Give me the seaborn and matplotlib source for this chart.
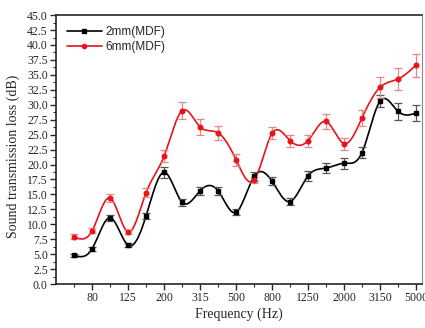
import numpy as np
import pandas as pd
import matplotlib
matplotlib.use("Agg")
import matplotlib.pyplot as plt
import seaborn as sns
from matplotlib.lines import Line2D
from matplotlib.ticker import MultipleLocator, FixedLocator, FormatStrFormatter

# data (1/3 octave bands)
freqs = ["63", "80", "100", "125", "160", "200", "250", "315", "400", "500",
         "630", "800", "1000", "1250", "1600", "2000", "2500", "3150", "4000", "5000"]
tl_2mm = [4.8, 5.9, 11.1, 6.5, 11.4, 18.7, 13.7, 15.6, 15.6, 12.0,
          18.0, 17.2, 13.8, 18.1, 19.4, 20.2, 22.0, 30.6, 28.9, 28.6]
err_2mm = [0.2, 0.3, 0.5, 0.3, 0.5, 0.9, 0.6, 0.7, 0.7, 0.5,
           0.7, 0.7, 0.6, 0.8, 0.8, 0.9, 0.9, 1.0, 1.4, 1.4]
tl_6mm = [7.9, 8.9, 14.4, 8.7, 15.3, 21.4, 29.0, 26.3, 25.3, 20.8,
          17.4, 25.2, 24.0, 24.0, 27.2, 23.5, 27.8, 32.9, 34.3, 36.6]
err_6mm = [0.4, 0.4, 0.6, 0.4, 0.8, 1.0, 1.4, 1.3, 1.2, 1.0,
           0.5, 1.0, 1.0, 1.0, 1.2, 1.0, 1.3, 1.7, 1.8, 1.9]


def natural_spline(y, n=600):
    # natural cubic spline through equally spaced points (step 1)
    y = np.asarray(y, float)
    m = len(y)
    A = np.zeros((m, m))
    b = np.zeros(m)
    A[0, 0] = A[-1, -1] = 1
    for i in range(1, m - 1):
        A[i, i - 1], A[i, i], A[i, i + 1] = 1, 4, 1
        b[i] = 6 * (y[i + 1] - 2 * y[i] + y[i - 1])
    M = np.linalg.solve(A, b)
    xs = np.linspace(0, m - 1, n)
    k = np.clip(np.floor(xs).astype(int), 0, m - 2)
    t = xs - k
    ys = ((1 - t) * y[k] + t * y[k + 1]
          + ((1 - t) ** 3 - (1 - t)) * M[k] / 6 + (t ** 3 - t) * M[k + 1] / 6)
    return xs, ys


sns.set_style("ticks")
plt.rcParams["font.family"] = ["Liberation Serif", "DejaVu Serif"]

fig = plt.figure(figsize=(4.25, 3.28), dpi=100)
ax = fig.add_axes([0.132, 0.134, 0.862, 0.820])

idx = np.arange(len(freqs))
series = [("2mm(MDF)", tl_2mm, err_2mm, "black", "#555555", "s"),
          ("6mm(MDF)", tl_6mm, err_6mm, "#e8141c", "#e8868a", "o")]

frames = []
for name, vals, errs, col, ecol, mk in series:
    xs, ys = natural_spline(vals)
    frames.append(pd.DataFrame({"x": xs, "y": ys, "series": name}))
smooth = pd.concat(frames, ignore_index=True)

sns.lineplot(data=smooth, x="x", y="y", hue="series", sort=False,
             palette={"2mm(MDF)": "black", "6mm(MDF)": "#e8141c"},
             linewidth=1.2, legend=False, ax=ax)

for name, vals, errs, col, ecol, mk in series:
    ax.errorbar(idx, vals, yerr=errs, fmt="none", ecolor=ecol,
                elinewidth=0.9, capsize=2.8, capthick=0.9, zorder=3)
    ax.plot(idx, vals, linestyle="none", marker=mk, color=col,
            markersize=3.3, zorder=4)

ax.set_xlim(-1.0, 19.36)
ax.set_ylim(0, 45)
ax.xaxis.set_major_locator(FixedLocator(idx[1::2]))
ax.set_xticklabels(freqs[1::2])
ax.xaxis.set_minor_locator(FixedLocator(idx[0::2]))
ax.yaxis.set_major_locator(MultipleLocator(2.5))
ax.yaxis.set_minor_locator(MultipleLocator(1.25))
ax.yaxis.set_major_formatter(FormatStrFormatter("%.1f"))
ax.tick_params(which="major", direction="out", length=4, width=1,
               labelsize=8.5, pad=2)
ax.tick_params(which="minor", direction="out", length=2.5, width=0.8)
for sp in ["left", "bottom", "top"]:
    ax.spines[sp].set_linewidth(1.2)
ax.spines["right"].set_linewidth(0.8)
ax.spines["right"].set_color("#888888")

ax.set_xlabel("Frequency (Hz)", fontsize=10, labelpad=2)
ax.set_ylabel("Sound transmission loss (dB)", fontsize=10)
ax.yaxis.set_label_coords(-0.098, 0.475)

handles = [Line2D([], [], color="black", marker="s", markersize=3, lw=1.2),
           Line2D([], [], color="#e8141c", marker="o", markersize=3, lw=1.2)]
ax.legend(handles, ["2mm(MDF)", "6mm(MDF)"], loc="upper left",
          frameon=False, handlelength=3.0, handletextpad=0.3,
          labelspacing=0.25, borderaxespad=0.5,
          prop={"family": "Liberation Sans", "size": 8.5})

fig.savefig("out.png", dpi=100)
